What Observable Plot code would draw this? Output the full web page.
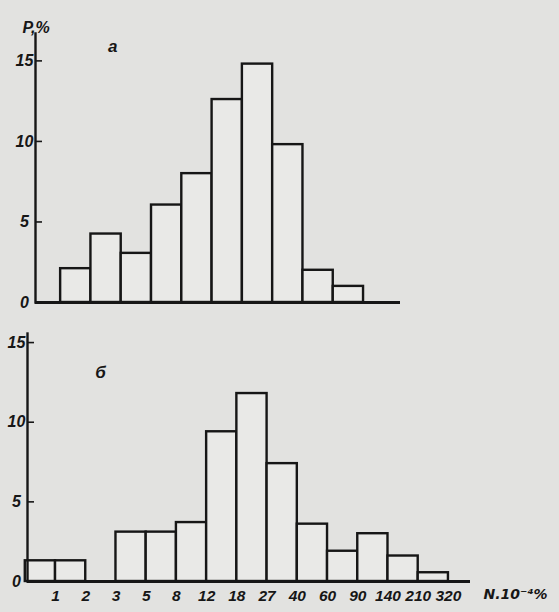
<!DOCTYPE html>
<html><head><meta charset="utf-8">
<script src="https://cdn.jsdelivr.net/npm/d3@7"></script>
<script src="https://cdn.jsdelivr.net/npm/@observablehq/plot@0.6"></script>
<style>
html,body{margin:0;padding:0;background:#e2e2e0;}
#chart{width:559px;height:612px;position:relative;overflow:hidden;}
#chart svg{display:block;}
</style></head><body><div id="chart"></div>
<script>
// bin edges (N·10^-4 %), one label per edge; bins are equal-width on the chart
const binEdgeLabels = ["0","1","2","3","5","8","12","18","27","40","60","90","140","210","320"];
// P, % per bin — panel а
const topValues = [0, 2.1, 4.25, 3.05, 6.05, 8.0, 12.6, 14.8, 9.8, 2.0, 1.0, 0, 0, 0];
// P, % per bin — panel б
const bottomValues = [1.3, 1.3, 0, 3.1, 3.1, 3.7, 9.4, 11.8, 7.4, 3.6, 1.9, 3.0, 1.6, 0.55];
const yTicks = [0, 5, 10, 15];
const topPanelLabel = "а";
const bottomPanelLabel = "б";
const yTitle = "P,%";
const xTitle = "N.10⁻⁴%";

const bins = d3.range(binEdgeLabels.length - 1).map(i => ({
  i0: i, i1: i + 1, top: topValues[i], bottom: bottomValues[i]
}));

const ink = "#161616";
const barFill = "#e9e9e7";
const font = "'Liberation Sans', Arial, sans-serif";
const textStyle = {fontFamily: font, fontStyle: "italic", fontWeight: "bold", fill: ink};
const titleStyle = {...textStyle, fontFamily: "'DejaVu Sans', sans-serif"};

const topPlot = Plot.plot({
  width: 559, height: 320,
  marginLeft: 35, marginRight: 159, marginTop: 33, marginBottom: 18,
  x: {domain: [0.17, 12.22], axis: null},
  y: {domain: [0, 16.7], axis: null},
  style: {background: "transparent", overflow: "visible"},
  marks: [
    Plot.rectY(bins.filter(d => d.top > 0), {x1: "i0", x2: "i1", y: "top", fill: barFill, stroke: ink, strokeWidth: 2.4}),
    Plot.frame({anchor: "left", stroke: ink, strokeWidth: 2.4}),
    Plot.ruleY([0], {stroke: ink, strokeWidth: 2.8}),
    Plot.axisY({ticks: yTicks, tickSize: -7, tickPadding: 18, textAnchor: "middle", stroke: ink, strokeWidth: 1.6, fontSize: 16, ...textStyle, label: null}),
    Plot.text([topPanelLabel], {x: 2.72, y: 15.9, fontSize: 17, ...textStyle}),
    Plot.text([yTitle], {frameAnchor: "top-left", dx: -13, dy: -12, textAnchor: "start", fontSize: 16, ...textStyle})
  ]
});

const bottomPlot = Plot.plot({
  width: 559, height: 292,
  marginLeft: 27, marginRight: 89, marginTop: 13, marginBottom: 31,
  x: {domain: [0.073, 14.73], axis: null},
  y: {domain: [0, 15.57], axis: null},
  style: {background: "transparent", overflow: "visible"},
  marks: [
    Plot.rectY(bins.filter(d => d.bottom > 0), {x1: "i0", x2: "i1", y: "bottom", fill: barFill, stroke: ink, strokeWidth: 2.4}),
    Plot.frame({anchor: "left", stroke: ink, strokeWidth: 2.4}),
    Plot.ruleY([0], {stroke: ink, strokeWidth: 2.8}),
    Plot.axisY({ticks: yTicks, tickSize: -7, tickPadding: 18, textAnchor: "middle", stroke: ink, strokeWidth: 1.6, fontSize: 16, ...textStyle, label: null}),
    Plot.axisX({ticks: d3.range(1, binEdgeLabels.length), tickFormat: i => binEdgeLabels[i], tickSize: 0, tickPadding: 8, fontSize: 15.5, ...textStyle, label: null}),
    Plot.text([bottomPanelLabel], {x: 2.49, y: 13.1, fontSize: 17, ...textStyle}),
    Plot.text([xTitle], {frameAnchor: "bottom-right", dx: 13, dy: 8, textAnchor: "start", lineAnchor: "top", fontSize: 14, ...titleStyle})
  ]
});

const chart = document.getElementById("chart");
chart.appendChild(topPlot);
chart.appendChild(bottomPlot);
</script>
</body></html>
